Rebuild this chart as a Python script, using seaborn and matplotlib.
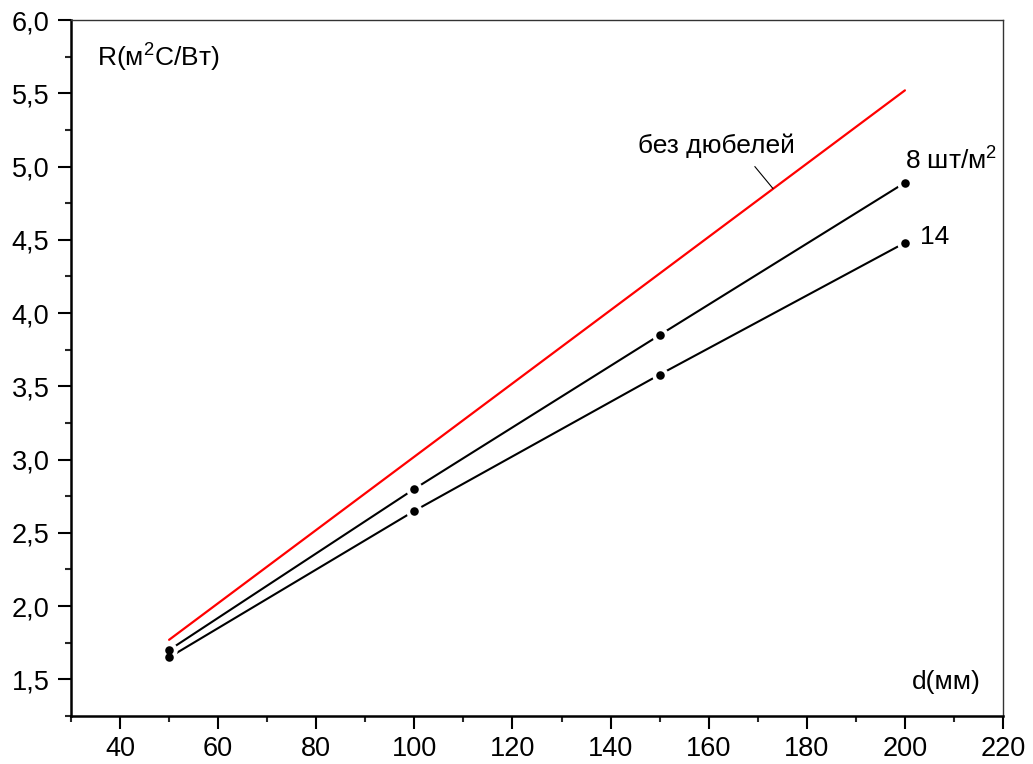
import numpy as np
import pandas as pd
import matplotlib
matplotlib.use("Agg")
import matplotlib.pyplot as plt
from matplotlib.ticker import MultipleLocator, FuncFormatter
import seaborn as sns

# Thermal resistance R vs. insulation thickness d
thickness = [50, 100, 150, 200]
r_no_dowels = [1.77, 3.02, 4.27, 5.52]
r_8_per_m2 = [1.70, 2.80, 3.85, 4.89]
r_14_per_m2 = [1.65, 2.65, 3.58, 4.48]

series_names = ["без дюбелей", "8", "14"]

df = pd.DataFrame({
    "d": thickness * 3,
    "R": r_no_dowels + r_8_per_m2 + r_14_per_m2,
    "series": [series_names[0]] * 4 + [series_names[1]] * 4 + [series_names[2]] * 4,
})
dowels = df[df.series != series_names[0]]

sns.set_theme(style="ticks")
plt.rcParams["font.family"] = ["Liberation Sans", "DejaVu Sans"]
plt.rcParams["mathtext.fontset"] = "custom"
plt.rcParams["mathtext.rm"] = "Liberation Sans"
plt.rcParams["mathtext.it"] = "Liberation Sans"
plt.rcParams["text.color"] = "black"

fig = plt.figure(figsize=(10.33, 7.64), dpi=100)
ax = fig.add_axes([0.0687, 0.0628, 0.9023, 0.911])

# red reference line without dowels (no markers)
sns.lineplot(data=df[df.series == series_names[0]], x="d", y="R", color="#ff0000",
             linewidth=1.6, ax=ax, legend=False)

# dowel series: black lines
for name in series_names[1:]:
    sns.lineplot(data=df[df.series == name], x="d", y="R", color="black",
                 linewidth=1.5, ax=ax, legend=False)

# white halo leaves a gap in the line around each measured point, then the dots
sns.scatterplot(data=dowels, x="d", y="R", color="white", s=140, linewidth=0,
                ax=ax, legend=False, zorder=3)
sns.scatterplot(data=dowels, x="d", y="R", color="black", s=38, linewidth=0,
                ax=ax, legend=False, zorder=4)

ax.set_xlim(30, 220)
ax.set_ylim(1.25, 6.0)
ax.xaxis.set_major_locator(MultipleLocator(20))
ax.xaxis.set_minor_locator(MultipleLocator(10))
ax.yaxis.set_major_locator(MultipleLocator(0.5))
ax.yaxis.set_minor_locator(MultipleLocator(0.25))
ax.yaxis.set_major_formatter(FuncFormatter(lambda v, p: f"{v:.1f}".replace(".", ",")))
ax.xaxis.set_major_formatter(FuncFormatter(lambda v, p: f"{v:.0f}"))

ax.tick_params(axis="both", which="major", direction="out", length=9.5, width=1.5,
               labelsize=19.5, colors="black")
ax.tick_params(axis="both", which="minor", direction="out", length=4, width=1.5)
ax.tick_params(axis="x", which="major", pad=5)
ax.tick_params(axis="y", which="major", pad=6)
ax.tick_params(top=False, right=False)

for side in ["left", "bottom"]:
    ax.spines[side].set_linewidth(1.8)
    ax.spines[side].set_color("black")
for side in ["top", "right"]:
    ax.spines[side].set_visible(True)
    ax.spines[side].set_linewidth(1.0)
    ax.spines[side].set_color("#333333")

ax.set_xlabel("")
ax.set_ylabel("")
ax.grid(False)

# axis captions inside the frame
ax.text(0.028, 0.945, "R(м$^2$C/Вт)", transform=ax.transAxes, fontsize=19,
        ha="left", va="center", color="black")
ax.text(0.939, 0.049, "d(мм)", transform=ax.transAxes, fontsize=19,
        ha="center", va="center", color="black")

# curve labels
ax.text(161.6, 5.14, "без дюбелей", fontsize=19, ha="center", va="center", color="black")
ax.annotate("", xy=(173.1, 4.85), xytext=(169.4, 5.0),
            arrowprops=dict(arrowstyle="-", color="black", lw=0.8,
                            shrinkA=0, shrinkB=0))
ax.text(200.0, 5.04, "8 шт/м$^2$", fontsize=19, ha="left", va="center", color="black")
ax.text(203.1, 4.52, "14", fontsize=19, ha="left", va="center", color="black")

fig.savefig("out.png", dpi=100, facecolor="white")
